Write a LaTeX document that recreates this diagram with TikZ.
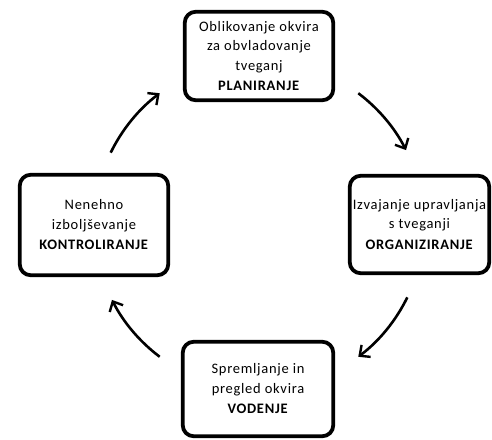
\documentclass[tikz,border=0pt]{standalone}
\usepackage{fontspec}
\setmainfont{Carlito}[LetterSpace=5]
\usetikzlibrary{arrows.meta}
\begin{document}
\begin{tikzpicture}[x=1pt,y=1pt,
  box/.style={draw, line width=3.8pt, rounded corners=11pt, align=center, inner sep=0pt,
    font=\fontsize{14.5}{19.5}\selectfont},
  cyc/.style={line width=2.6pt, -{Straight Barb[length=8pt,width=15pt,line width=2.4pt]}}]
\useasboundingbox (0,-439) rectangle (492,0);
\node[box, minimum width=148.5pt, minimum height=88.5pt] (plan) at (259,-56)
  {Oblikovanje okvira\\za obvladovanje\\tveganj\\[1pt]\textbf{PLANIRANJE}};
\node[box, minimum width=139.5pt, minimum height=97.5pt] (org) at (419.5,-224.5)
  {Izvajanje upravljanja\\s tveganji\\[1pt]\textbf{ORGANIZIRANJE}};
\node[box, minimum width=148.5pt, minimum height=100.5pt] (kon) at (94,-225)
  {Nenehno\\izboljševanje\\[1pt]\textbf{KONTROLIRANJE}};
\node[box, minimum width=150.5pt, minimum height=94.5pt] (vod) at (258,-389)
  {Spremljanje in\\pregled okvira\\[1pt]\textbf{VODENJE}};
\coordinate (C) at (259,-225);
\coordinate (a1) at ([shift={(154:165)}]C);
\coordinate (a2) at ([shift={(53:165)}]C);
\coordinate (a3) at ([shift={(-26:165)}]C);
\coordinate (a4) at ([shift={(233:165)}]C);
\draw[cyc] (a1) arc[start angle=154, end angle=127, radius=165];
\draw[cyc] (a2) arc[start angle=53, end angle=27, radius=165];
\draw[cyc] (a3) arc[start angle=-26, end angle=-53, radius=165];
\draw[cyc] (a4) arc[start angle=233, end angle=207, radius=165];
\end{tikzpicture}
\end{document}
